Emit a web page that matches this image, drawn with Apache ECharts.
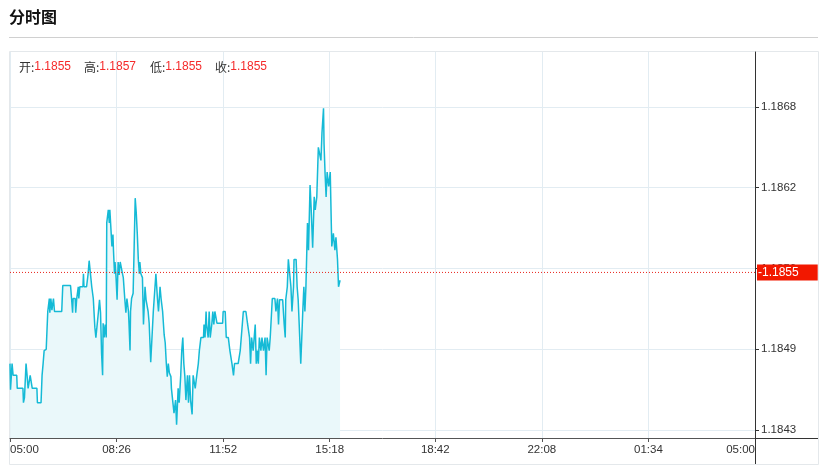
<!DOCTYPE html>
<html>
<head>
<meta charset="utf-8">
<script src="https://cdn.jsdelivr.net/npm/echarts@6/dist/echarts.min.js"></script>
<style>
html,body{margin:0;padding:0;background:#fff;}
#c{width:830px;height:473px;}
</style>
</head>
<body>
<div id="c"></div>
<script>
// ---- data ----
const tickLabels = ['05:00','08:26','11:52','15:18','18:42','22:08','01:34','05:00'];
const tickMinutes = [0,206,412,618,822,1028,1234,1440];
const priceTicks = [1.18432,1.18494,1.18556,1.18618,1.18680];
const ohlcNames = ['开','高','低','收'];
const ohlcValues = ['1.1855','1.1857','1.1855','1.1855'];
const lastClose = 1.18553;
const lastCloseLabel = '1.1855';
const sessionMinutes = [0, 1440];

// minutes after 05:00
const minutes = [
0,1,4,6,13,14,25,26,28,31,33,35,39,43,52,53,60,62,64,66,70,73,76,77,79,81,84,86,100,102,
117,119,121,122,126,127,129,132,133,135,141,142,143,148,151,153,156,158,161,164,166,169,171,173,175,177,179,180,182,184,
186,187,190,192,193,197,199,200,202,203,205,207,209,211,213,216,218,219,222,224,226,229,230,232,233,235,238,240,242,244,
246,248,250,251,253,256,258,261,263,265,267,269,272,274,277,280,282,285,287,290,292,295,298,300,302,304,306,308,311,312,
314,317,320,322,325,327,330,332,334,336,338,340,343,345,347,349,352,354,358,361,364,366,369,374,375,377,379,380,383,385,
387,390,392,394,396,400,411,412,416,418,422,425,429,432,434,441,445,448,451,456,459,463,465,467,470,474,476,478,480,482,
485,487,490,493,495,497,501,503,506,507,512,514,517,519,521,527,530,532,533,536,538,541,543,545,548,549,553,555,557,559,
562,564,566,568,570,572,575,577,580,582,585,588,590,593,596,599,601,603,606,607,609,611,613,616,619,621,622,625,628,630,
633,635,637,638
];
const prices = [
1.18483,1.18463,1.18483,1.18474,1.18474,1.18464,1.18464,1.18453,1.18457,1.18483,1.18474,1.18464,1.18474,1.18464,1.18464,1.18453,1.18453,1.18474,1.18483,1.18493,1.18494,1.18523,1.18533,1.18522,1.18533,1.18524,1.18533,1.18523,1.18523,1.18543,
1.18543,1.18533,1.18522,1.18533,1.18533,1.18522,1.18533,1.18542,1.18533,1.18542,1.18542,1.18552,1.18542,1.18542,1.18552,1.18562,1.18562,1.18542,1.18533,1.18511,1.18503,1.18503,1.18523,1.18532,1.18522,1.18491,1.18474,1.18514,1.18503,1.18513,
1.18503,1.18591,1.18601,1.18591,1.18601,1.18573,1.18582,1.18570,1.18552,1.18561,1.18549,1.18532,1.18561,1.18551,1.18561,1.18561,1.18551,1.18549,1.18532,1.18522,1.18533,1.18523,1.18514,1.18493,1.18523,1.18533,1.18537,1.18573,1.18610,1.18599,
1.18583,1.18563,1.18552,1.18561,1.18552,1.18549,1.18513,1.18542,1.18532,1.18533,1.18523,1.18514,1.18484,1.18483,1.18523,1.18523,1.18552,1.18533,1.18523,1.18542,1.18533,1.18523,1.18505,1.18499,1.18484,1.18473,1.18483,1.18476,1.18473,1.18464,
1.18464,1.18445,1.18455,1.18436,1.18464,1.18453,1.18474,1.18493,1.18503,1.18483,1.18473,1.18455,1.18474,1.18453,1.18474,1.18455,1.18444,1.18474,1.18464,1.18474,1.18483,1.18493,1.18503,1.18503,1.18513,1.18503,1.18523,1.18513,1.18503,1.18523,
1.18503,1.18513,1.18523,1.18513,1.18523,1.18514,1.18514,1.18523,1.18523,1.18503,1.18503,1.18493,1.18483,1.18474,1.18483,1.18483,1.18493,1.18493,1.18523,1.18523,1.18514,1.18503,1.18483,1.18503,1.18493,1.18513,1.18483,1.18493,1.18483,1.18503,
1.18493,1.18503,1.18493,1.18503,1.18474,1.18503,1.18493,1.18503,1.18503,1.18533,1.18533,1.18523,1.18533,1.18513,1.18532,1.18532,1.18513,1.18503,1.18532,1.18542,1.18563,1.18563,1.18542,1.18523,1.18542,1.18563,1.18563,1.18542,1.18532,1.18513,
1.18483,1.18503,1.18524,1.18542,1.18523,1.18542,1.18591,1.18570,1.18620,1.18603,1.18572,1.18611,1.18601,1.18611,1.18649,1.18649,1.18639,1.18660,1.18679,1.18652,1.18629,1.18611,1.18630,1.18619,1.18630,1.18591,1.18573,1.18583,1.18570,1.18580,
1.18563,1.18542,1.18542,1.18547
];

const yMin = 1.184259;
const yMax = 1.187222;

const seriesData = minutes.map((m, i) => [m, prices[i]]);
const closeLineData = sessionMinutes.map(m => [m, lastClose]);

const FONT = '"Liberation Sans", Arial, sans-serif';
const CJK = '"Noto Sans CJK SC", "Liberation Sans", sans-serif';
const GRID_C = '#e2ecf2';
const AXIS_C = '#333';

const chart = echarts.init(document.getElementById('c'), null, {renderer: 'canvas'});

const ohlcX = [19, 84, 150, 215];
const ohlcGraphics = ohlcNames.map((n, i) => ({
  type: 'text',
  x: ohlcX[i], y: 67,
  z: 100,
  style: {
    text: '{l|' + n + ':}{v|' + ohlcValues[i] + '}',
    verticalAlign: 'middle',
    rich: {
      l: {fill: '#333', fontSize: 12, fontFamily: CJK},
      v: {fill: '#f52a2a', fontSize: 12, fontFamily: FONT}
    }
  }
}));

chart.setOption({
  animation: false,
  backgroundColor: '#fff',
  grid: {left: 10, right: 75, top: 52, bottom: 35, containLabel: false},
  xAxis: {
    type: 'value',
    min: 0, max: 1440,
    axisLine: {show: true, onZero: false, lineStyle: {color: '#555', width: 1}},
    axisTick: {show: true, length: 4, lineStyle: {color: '#555'}, customValues: tickMinutes},
    axisLabel: {
      customValues: tickMinutes,
      color: '#333', fontSize: 11.5, fontFamily: FONT, margin: 6,
      alignMinLabel: 'left', alignMaxLabel: 'right',
      formatter: function (v) {
        const idx = tickMinutes.indexOf(Math.round(v));
        return idx >= 0 ? tickLabels[idx] : '';
      }
    },
    splitLine: {show: true, lineStyle: {color: GRID_C, width: 1}}
  },
  yAxis: {
    type: 'value',
    position: 'right',
    min: yMin, max: yMax,
    axisLine: {show: true, onZero: false, lineStyle: {color: AXIS_C, width: 1}},
    axisTick: {show: true, length: 4, lineStyle: {color: AXIS_C}, customValues: priceTicks},
    axisLabel: {
      customValues: priceTicks,
      color: '#333', fontSize: 11.5, fontFamily: FONT, margin: 6,
      formatter: function (v) { return Number(v).toFixed(4); }
    },
    splitLine: {show: true, lineStyle: {color: GRID_C, width: 1}}
  },
  series: [{
    type: 'line',
    name: 'price',
    data: seriesData,
    showSymbol: false,
    symbol: 'none',
    z: 2,
    lineStyle: {color: '#15bad6', width: 1.5},
    itemStyle: {color: '#15bad6'},
    areaStyle: {color: '#eaf8fa', opacity: 1, origin: 'start'}
  }, {
    type: 'line',
    name: 'close',
    data: closeLineData,
    showSymbol: false,
    symbol: 'none',
    silent: true,
    z: 3,
    lineStyle: {color: '#e8231b', type: [1, 2], width: 1},
    itemStyle: {color: '#e8231b'},
    endLabel: {
      show: true,
      distance: 2,
      formatter: '-' + lastCloseLabel,
      color: '#fff',
      backgroundColor: '#f21800',
      fontSize: 12,
      fontFamily: FONT,
      lineHeight: 12,
      padding: [2, 19, 2, 1]
    }
  }],
  graphic: [
    {type: 'text', x: 9, y: 17, z: 100, style: {text: '分时图', font: 'bold 16px "Noto Sans CJK SC", sans-serif', fill: '#111', verticalAlign: 'middle'}},
    {type: 'line', z: 100, shape: {x1: 9, y1: 37.5, x2: 818, y2: 37.5}, style: {stroke: '#d0d0d0', lineWidth: 1}},
    {type: 'rect', z: -1, shape: {x: 9.5, y: 51.5, width: 809, height: 413}, style: {fill: null, stroke: '#e4e8eb', lineWidth: 1}},
    {type: 'line', z: 100, shape: {x1: 755.5, y1: 438, x2: 755.5, y2: 464}, style: {stroke: AXIS_C, lineWidth: 1}},
    {type: 'line', z: 100, shape: {x1: 755, y1: 438.5, x2: 818, y2: 438.5}, style: {stroke: AXIS_C, lineWidth: 1}}
  ].concat(ohlcGraphics)
});
</script>
</body>
</html>
